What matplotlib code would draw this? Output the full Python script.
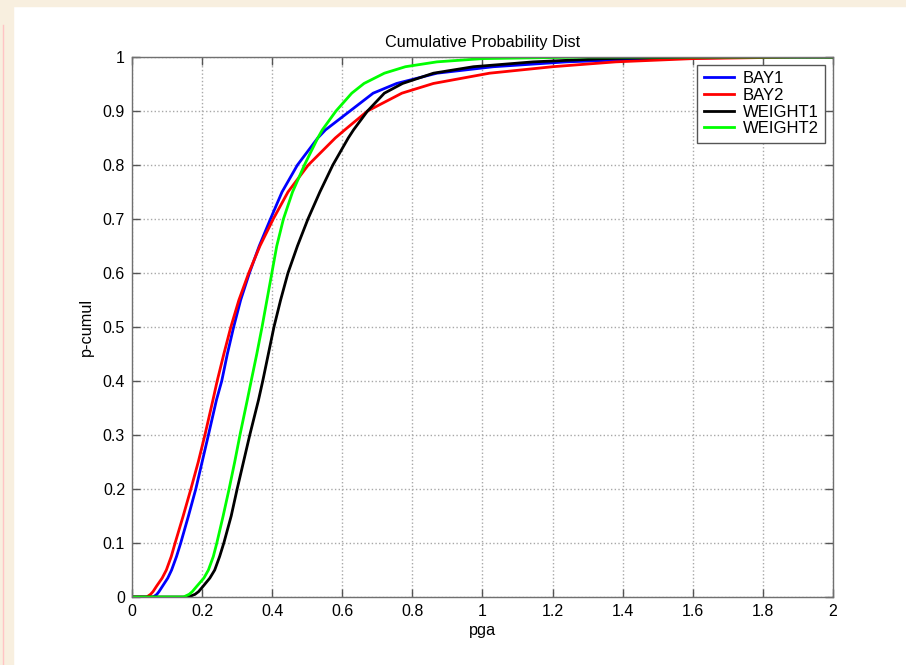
import matplotlib
matplotlib.use("Agg")
import matplotlib.pyplot as plt
from matplotlib.patches import Rectangle
from matplotlib.lines import Line2D

plt.rcParams['font.family'] = ['Liberation Sans', 'DejaVu Sans']

# cumulative probability levels, and the pga where each curve reaches them
p_cumul = [0, 0, 0.005, 0.01, 0.02, 0.035, 0.05, 0.075, 0.1, 0.15, 0.2, 0.25, 0.3, 0.365, 0.4, 0.45, 0.5,
           0.55, 0.6, 0.65, 0.7, 0.75, 0.8, 0.85, 0.865, 0.9, 0.933, 0.951, 0.97, 0.982, 0.991, 0.997, 1, 1]

x_bay1 = [0.0, 0.061, 0.071, 0.077, 0.087, 0.102, 0.113, 0.127, 0.139, 0.161, 0.182, 0.2, 0.218, 0.241, 0.256, 0.272, 0.29,
          0.31, 0.335, 0.363, 0.395, 0.428, 0.472, 0.53, 0.552, 0.622, 0.688, 0.755, 0.87, 1.031, 1.24, 1.5, 1.8, 2.0]
x_bay2 = [0.0, 0.042, 0.053, 0.06, 0.07, 0.086, 0.098, 0.112, 0.123, 0.146, 0.168, 0.189, 0.208, 0.231, 0.243, 0.262, 0.282,
          0.305, 0.333, 0.365, 0.403, 0.445, 0.503, 0.58, 0.607, 0.672, 0.77, 0.86, 1.02, 1.2, 1.38, 1.6, 1.9, 2.0]
x_weight1 = [0.0, 0.161, 0.18, 0.19, 0.203, 0.222, 0.236, 0.25, 0.262, 0.283, 0.30, 0.318, 0.336, 0.361, 0.373, 0.389, 0.405,
             0.424, 0.445, 0.472, 0.502, 0.536, 0.573, 0.617, 0.632, 0.672, 0.72, 0.772, 0.86, 0.974, 1.145, 1.35, 1.6, 2.0]
x_weight2 = [0.0, 0.147, 0.163, 0.172, 0.185, 0.205, 0.218, 0.232, 0.242, 0.26, 0.277, 0.293, 0.308, 0.329, 0.34, 0.356, 0.371,
             0.385, 0.399, 0.413, 0.432, 0.458, 0.492, 0.53, 0.543, 0.582, 0.627, 0.662, 0.72, 0.78, 0.87, 1.0, 1.3, 2.0]

fig = plt.figure(figsize=(9.06, 6.65), dpi=100)
fig.patch.set_facecolor('white')

# beige page border like the screenshot
beige = '#f8efdf'
fig.patches.append(Rectangle((0, 1 - 6 / 665), 1, 6 / 665, transform=fig.transFigure, color=beige, zorder=0))
fig.patches.append(Rectangle((0, 0), 13 / 906, 1, transform=fig.transFigure, color=beige, zorder=0))
fig.lines.append(Line2D([2.5 / 906, 2.5 / 906], [0, 1 - 25 / 665], transform=fig.transFigure, color='#ffc4c4', lw=1))

ax = fig.add_axes([132 / 906, 68 / 665, 701 / 906, 540 / 665])

ax.plot(x_bay1, p_cumul, color=(0, 0, 1), lw=2, label='BAY1')
ax.plot(x_bay2, p_cumul, color=(1, 0, 0), lw=2, label='BAY2')
ax.plot(x_weight1, p_cumul, color='black', lw=2, label='WEIGHT1')
ax.plot(x_weight2, p_cumul, color=(0, 1, 0), lw=2, label='WEIGHT2')

ax.set_xlim(0, 2)
ax.set_ylim(0, 1)
ax.set_xticks([0, 0.2, 0.4, 0.6, 0.8, 1, 1.2, 1.4, 1.6, 1.8, 2])
ax.set_xticklabels(['0', '0.2', '0.4', '0.6', '0.8', '1', '1.2', '1.4', '1.6', '1.8', '2'])
ax.set_yticks([0, 0.1, 0.2, 0.3, 0.4, 0.5, 0.6, 0.7, 0.8, 0.9, 1])
ax.set_yticklabels(['0', '0.1', '0.2', '0.3', '0.4', '0.5', '0.6', '0.7', '0.8', '0.9', '1'])
ax.tick_params(direction='in', length=6, width=1, color='#555555', labelsize=11.5,
               top=True, right=True, pad=5)
for s in ax.spines.values():
    s.set_color('#707070')
    s.set_linewidth(1)
ax.grid(True, linestyle=':', color='#a8a8a8', linewidth=1)

ax.set_title('Cumulative Probability Dist', fontsize=11.7, pad=7)
ax.set_xlabel('pga', fontsize=11.7, labelpad=3)
ax.set_ylabel('p-cumul', fontsize=11.7, labelpad=6)

leg = ax.legend(loc='upper right', fontsize=12, fancybox=False, framealpha=1,
                edgecolor='#555555', borderpad=0.4, labelspacing=0.1,
                handlelength=1.8, handletextpad=0.55, borderaxespad=0.45)
leg.get_frame().set_linewidth(1)

fig.savefig('out.png', dpi=100, facecolor=fig.get_facecolor())
